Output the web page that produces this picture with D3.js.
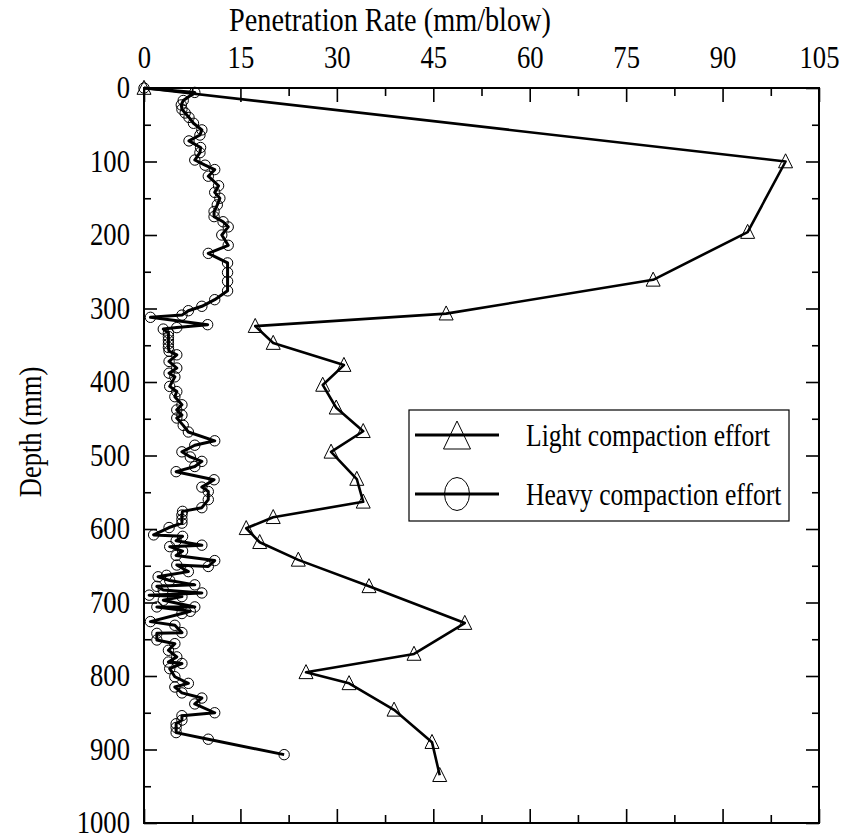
<!DOCTYPE html>
<html>
<head>
<meta charset="utf-8">
<script src="https://cdn.jsdelivr.net/npm/d3@7"></script>
<style>
  html, body { margin: 0; padding: 0; background: #fff; }
  svg { display: block; }
  svg text { font-family: "Liberation Serif", Tinos, "DejaVu Serif", serif; fill: #000; }
</style>
</head>
<body>
<svg id="chart" width="845" height="840"></svg>
<script>
// Light compaction effort: depth (mm) and penetration rate (mm/blow)
const lightDepth = [0, 100, 196, 261, 307, 324, 347, 377, 404, 435, 467, 495, 532, 563, 584, 599, 618, 642, 678, 728, 770, 795, 810, 846, 890, 935];
const lightRate  = [0, 99.8, 93.9, 79.2, 47.0, 17.3, 20.1, 31.1, 27.8, 29.9, 34.1, 29.1, 33.1, 34.1, 20.1, 15.9, 18.0, 24.0, 35.0, 49.9, 42.0, 25.2, 31.9, 38.9, 44.8, 46.0];

// Heavy compaction effort: depth (mm) and penetration rate (mm/blow)
const heavyDepth = [0, 6, 17, 23, 29, 34, 40, 48, 57, 64, 72, 81, 88, 98, 105, 111, 120, 133, 142, 150,
  159, 168, 175, 182, 189, 200, 214, 225, 238, 251, 263, 276, 288, 297, 303, 309, 312, 322, 326, 328,
  333, 338, 343, 348, 353, 358, 363, 372, 381, 388, 393, 406, 413, 420, 431, 438, 445, 449, 459, 468,
  480, 486, 495, 502, 508, 515, 522, 533, 543, 549, 560, 571, 576, 581, 587, 592, 598, 608, 610, 616,
  622, 624, 630, 636, 643, 651, 649, 658, 663, 665, 670, 676, 678, 683, 687, 690, 692, 697, 706, 706,
  712, 715, 726, 731, 741, 742, 751, 756, 765, 774, 781, 783, 790, 801, 810, 815, 823, 830, 838, 850,
  854, 860, 865, 870, 877, 886, 907];
const heavyRate = [0, 7.9, 6.1, 5.8, 5.9, 6.4, 7.0, 7.7, 9.0, 8.7, 7.0, 8.8, 8.7, 7.9, 9.5, 11.0, 10.0, 11.6, 11.0, 11.8,
  11.4, 10.9, 10.9, 12.3, 13.1, 12.1, 13.1, 10.0, 13.0, 13.0, 13.0, 13.0, 11.0, 9.0, 6.9, 5.9, 1.0, 9.9, 5.1, 3.0,
  3.8, 3.8, 3.8, 3.8, 3.8, 3.9, 5.1, 3.9, 5.1, 3.9, 4.8, 4.0, 5.1, 4.8, 5.9, 5.1, 5.9, 5.1, 6.1, 6.9,
  11.0, 7.9, 5.9, 7.2, 9.0, 7.9, 5.0, 10.9, 9.0, 10.0, 10.0, 9.0, 6.0, 5.9, 5.9, 5.9, 3.9, 1.5, 6.0, 5.0,
  9.0, 4.0, 6.0, 5.0, 11.0, 10.0, 5.1, 6.9, 3.5, 2.2, 4.0, 7.9, 2.0, 3.0, 9.0, 0.8, 5.9, 3.0, 7.9, 2.0,
  7.2, 5.9, 1.0, 4.8, 5.9, 2.0, 2.0, 4.8, 3.8, 5.1, 3.8, 5.9, 4.0, 4.8, 6.9, 4.8, 5.9, 9.0, 7.9, 11.0,
  5.9, 5.9, 5.0, 5.0, 5.0, 10.0, 21.8];

// Axis ticks
const rateTicks  = [0, 15, 30, 45, 60, 75, 90, 105];
const rateMinor  = [7.5, 22.5, 37.5, 52.5, 67.5, 82.5, 97.5];
const depthTicks = [0, 100, 200, 300, 400, 500, 600, 700, 800, 900, 1000];
const depthMinor = [50, 150, 250, 350, 450, 550, 650, 750, 850, 950];

const seriesNames = ["Light compaction effort", "Heavy compaction effort"];

const serif = "'Liberation Serif', Tinos, 'DejaVu Serif', serif";
const svg = d3.select("#chart");
const plotL = 144, plotR = 819, plotT = 88, plotB = 823;

const x = d3.scaleLinear().domain([0, 105]).range([plotL, plotR]);
const y = d3.scaleLinear().domain([0, 1000]).range([plotT, plotB]);

// The typeface is set narrow: glyphs are squeezed horizontally
function narrowText(sel, sx) {
  sel.each(function () {
    const t = d3.select(this);
    const tx = +t.attr("x") || 0, ty = +t.attr("y") || 0;
    t.attr("x", 0).attr("y", 0).attr("transform", `translate(${tx},${ty}) scale(${sx},1)`);
  });
}

const tickFont = 31, tickSqueeze = 0.86;

// Top axis with labels, ticks pointing inward
const gTop = svg.append("g").attr("transform", `translate(0,${plotT})`)
  .call(d3.axisTop(x).tickValues(rateTicks).tickSizeInner(-14).tickSizeOuter(0).tickPadding(20)
    .tickFormat(d3.format("d")));
gTop.attr("font-family", serif).attr("font-size", tickFont);
narrowText(gTop.selectAll("text"), tickSqueeze);
svg.append("g").attr("transform", `translate(0,${plotT})`)
  .call(d3.axisTop(x).tickValues(rateMinor).tickSizeInner(-8).tickSizeOuter(0).tickFormat(""));

// Bottom axis: ticks only
svg.append("g").attr("transform", `translate(0,${plotB})`)
  .call(d3.axisBottom(x).tickValues(rateTicks).tickSizeInner(-14).tickSizeOuter(0).tickFormat(""));
svg.append("g").attr("transform", `translate(0,${plotB})`)
  .call(d3.axisBottom(x).tickValues(rateMinor).tickSizeInner(-8).tickSizeOuter(0).tickFormat(""));

// Left axis with labels
const gLeft = svg.append("g").attr("transform", `translate(${plotL},0)`)
  .call(d3.axisLeft(y).tickValues(depthTicks).tickSizeInner(-13).tickSizeOuter(0).tickPadding(14)
    .tickFormat(d3.format("d")));
gLeft.attr("font-family", serif).attr("font-size", tickFont);
narrowText(gLeft.selectAll("text"), tickSqueeze);
svg.append("g").attr("transform", `translate(${plotL},0)`)
  .call(d3.axisLeft(y).tickValues(depthMinor).tickSizeInner(-7).tickSizeOuter(0).tickFormat(""));

// Right axis: ticks only
svg.append("g").attr("transform", `translate(${plotR},0)`)
  .call(d3.axisRight(y).tickValues(depthTicks).tickSizeInner(-13).tickSizeOuter(0).tickFormat(""));
svg.append("g").attr("transform", `translate(${plotR},0)`)
  .call(d3.axisRight(y).tickValues(depthMinor).tickSizeInner(-7).tickSizeOuter(0).tickFormat(""));

svg.selectAll(".domain").remove();
svg.selectAll(".tick line").attr("stroke", "#000").attr("stroke-width", 1.6);

// Plot frame
svg.append("rect")
  .attr("x", plotL).attr("y", plotT).attr("width", plotR - plotL).attr("height", plotB - plotT)
  .attr("fill", "none").attr("stroke", "#000").attr("stroke-width", 2);

// Axis titles
svg.append("text").attr("transform", "translate(390,31) scale(0.857,1)")
  .attr("text-anchor", "middle").attr("font-size", 33).attr("font-family", serif)
  .text("Penetration Rate (mm/blow)");
svg.append("text").attr("transform", "translate(41,432) rotate(-90) scale(0.83,1)")
  .attr("text-anchor", "middle").attr("font-size", 32).attr("font-family", serif)
  .text("Depth (mm)");

// Series
const light = lightDepth.map((d, i) => ({ d, r: lightRate[i] }));
const heavy = heavyDepth.map((d, i) => ({ d, r: heavyRate[i] }));

const line = d3.line().x(p => x(p.r)).y(p => y(p.d));

svg.append("path").datum(light).attr("d", line)
  .attr("fill", "none").attr("stroke", "#000").attr("stroke-width", 2.6).attr("stroke-linejoin", "round");
svg.append("path").datum(heavy).attr("d", line)
  .attr("fill", "none").attr("stroke", "#000").attr("stroke-width", 3).attr("stroke-linejoin", "round");

const triPath = (s) => `M0,${-s * 0.55}L${s * 0.5},${s * 0.45}L${-s * 0.5},${s * 0.45}Z`;

svg.append("g").selectAll("path").data(light).join("path")
  .attr("transform", p => `translate(${x(p.r)},${y(p.d)})`)
  .attr("d", triPath(14))
  .attr("fill", "none").attr("stroke", "#000").attr("stroke-width", 1);

svg.append("g").selectAll("circle").data(heavy).join("circle")
  .attr("cx", p => x(p.r)).attr("cy", p => y(p.d)).attr("r", 5.2)
  .attr("fill", "none").attr("stroke", "#000").attr("stroke-width", 1);

// Legend
const lg = svg.append("g");
lg.append("rect").attr("x", 409).attr("y", 410).attr("width", 380).attr("height", 111)
  .attr("fill", "#fff").attr("stroke", "#000").attr("stroke-width", 1.2);
const rows = [435, 494];
rows.forEach((ry, i) => {
  lg.append("line").attr("x1", 415).attr("x2", 499).attr("y1", ry).attr("y2", ry)
    .attr("stroke", "#000").attr("stroke-width", 3);
  if (i === 0) {
    lg.append("path").attr("transform", `translate(457,${ry})`)
      .attr("d", "M0,-14L13.5,14L-13.5,14Z")
      .attr("fill", "none").attr("stroke", "#000").attr("stroke-width", 1);
  } else {
    lg.append("ellipse").attr("cx", 457).attr("cy", ry).attr("rx", 12.5).attr("ry", 16.5)
      .attr("fill", "none").attr("stroke", "#000").attr("stroke-width", 1);
  }
  lg.append("text").attr("transform", `translate(526,${ry + 11}) scale(0.8,1)`)
    .attr("font-size", 32).attr("font-family", serif)
    .text(seriesNames[i]);
});
</script>
</body>
</html>
